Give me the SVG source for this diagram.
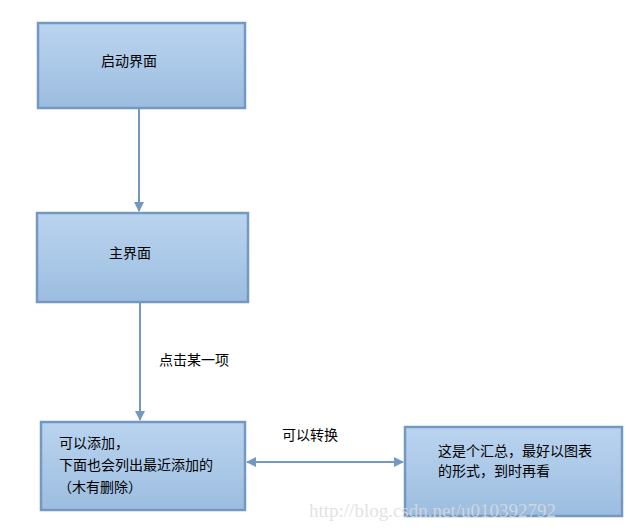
<svg xmlns="http://www.w3.org/2000/svg" width="630" height="530" viewBox="0 0 630 530">
<style>
.box{fill:url(#g);stroke:#7399c3;stroke-width:2.5}
.t{font-family:"Liberation Sans","Noto Sans CJK SC",sans-serif;font-size:14px;fill:#000}
.c{stroke:#7399c3;stroke-width:2;fill:none}
.wm{font-family:"Liberation Serif",serif;font-size:19px;fill:#dcdcdc;opacity:0.8}
</style>
<defs>
<linearGradient id="g" x1="0" y1="0" x2="0" y2="1">
<stop offset="0" stop-color="#bad4ef"/>
<stop offset="1" stop-color="#9cbde0"/>
</linearGradient>
<marker id="ah" viewBox="0 0 10 10" refX="9" refY="5" markerWidth="5" markerHeight="5" orient="auto-start-reverse">
<path d="M0,0 L10,5 L0,10 z" fill="#7399c3"/>
</marker>
</defs>
<rect width="630" height="530" fill="#fff"/>
<g id="connectors">
<line class="c" x1="139" y1="109" x2="139" y2="211" marker-end="url(#ah)"/>
<line class="c" x1="140" y1="303" x2="140" y2="420" marker-end="url(#ah)"/>
<line class="c" x1="247" y1="462" x2="403" y2="462" marker-start="url(#ah)" marker-end="url(#ah)"/>
<text class="t" x="159" y="365">点击某一项</text>
<text class="t" x="282" y="440">可以转换</text>
</g>
<g id="n1">
<rect class="box" x="38" y="23" width="207" height="85"/>
<text class="t" x="101" y="66">启动界面</text>
</g>
<g id="n2">
<rect class="box" x="37" y="213" width="211" height="89"/>
<text class="t" x="109" y="258">主界面</text>
</g>
<g id="n3">
<rect class="box" x="41" y="422" width="204" height="88"/>
<text class="t" x="59" y="448">可以添加，</text>
<text class="t" x="59" y="470">下面也会列出最近添加的</text>
<text class="t" x="58" y="492">（木有删除）</text>
</g>
<g id="n4">
<rect class="box" x="405" y="427" width="217" height="89"/>
<text class="t" x="438" y="456">这是个汇总，最好以图表</text>
<text class="t" x="438" y="476">的形式，到时再看</text>
</g>
<text class="wm" x="309" y="517">http://blog.csdn.net/u010392792</text>
</svg>
